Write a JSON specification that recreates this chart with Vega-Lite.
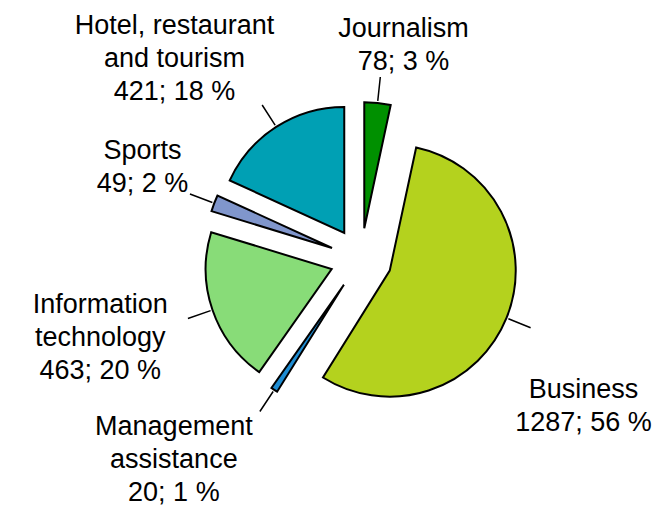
{
  "$schema": "https://vega.github.io/schema/vega-lite/v6.json",
  "width": 654,
  "height": 510,
  "autosize": {"type": "fit", "contains": "padding"},
  "padding": {"left": 66, "top": 8, "right": 0, "bottom": 0},
  "background": "white",
  "config": {"view": {"stroke": null}},
  "data": {
    "values": [
      {"idx": 1, "category": "Journalism", "count": 78, "label": "Journalism\n78; 3 %"},
      {"idx": 2, "category": "Business", "count": 1287, "label": "Business\n1287; 56 %"},
      {"idx": 3, "category": "Management assistance", "count": 20, "label": "Management\nassistance\n20; 1 %"},
      {"idx": 4, "category": "Information technology", "count": 463, "label": "Information\ntechnology\n463; 20 %"},
      {"idx": 5, "category": "Sports", "count": 49, "label": "Sports\n49; 2 %"},
      {"idx": 6, "category": "Hotel, restaurant and tourism", "count": 421, "label": "Hotel, restaurant\nand tourism\n421; 18 %"}
    ]
  },
  "transform": [
    {"stack": "count", "groupby": [], "sort": [{"field": "idx", "order": "ascending"}], "as": ["c0", "c1"]}
  ],
  "encoding": {
    "theta": {"field": "c1", "type": "quantitative"},
    "theta2": {"field": "c0"}
  },
  "layer": [
    {
      "mark": {
        "type": "arc",
        "radius": 126,
        "stroke": "#000000",
        "strokeWidth": 2,
        "xOffset": {"expr": "31 * sin((scale('theta', datum.c0) + scale('theta', datum.c1)) / 2)"},
        "yOffset": {"expr": "-31 * cos((scale('theta', datum.c0) + scale('theta', datum.c1)) / 2)"}
      },
      "encoding": {
        "color": {
          "field": "category",
          "type": "nominal",
          "legend": null,
          "scale": {
            "domain": ["Journalism", "Business", "Management assistance", "Information technology", "Sports", "Hotel, restaurant and tourism"],
            "range": ["#009000", "#B4D21E", "#1E8CD2", "#88DC78", "#8096CC", "#00A0B4"]
          }
        }
      }
    },
    {
      "mark": {
        "type": "arc",
        "radius": 152,
        "radius2": 128,
        "filled": false,
        "color": "#000000",
        "strokeWidth": 1.5,
        "thetaOffset": {"expr": "(scale('theta', datum.c0) - scale('theta', datum.c1)) / 2"},
        "theta2Offset": {"expr": "(scale('theta', datum.c1) - scale('theta', datum.c0)) / 2"},
        "xOffset": {"expr": "31 * sin((scale('theta', datum.c0) + scale('theta', datum.c1)) / 2)"},
        "yOffset": {"expr": "-31 * cos((scale('theta', datum.c0) + scale('theta', datum.c1)) / 2)"}
      },
      "encoding": {
        "detail": {"field": "category", "type": "nominal"}
      }
    },
    {
      "mark": {
        "type": "text",
        "font": "Liberation Sans",
        "fontSize": 27,
        "lineBreak": "\n",
        "lineHeight": 33,
        "align": "center",
        "baseline": "middle",
        "color": "#000000",
        "xOffset": {"expr": "clamp((sin(((scale('theta', datum.c0) + scale('theta', datum.c1)) / 2 + 0.08)) < 0 ? -1 : 1) * sqrt(max(pow((185 + (6.75 * max(length(split(datum.label + '\\n\\n', '\\n')[0]), length(split(datum.label + '\\n\\n', '\\n')[1]), length(split(datum.label + '\\n\\n', '\\n')[2]))) * abs(sin(((scale('theta', datum.c0) + scale('theta', datum.c1)) / 2 + 0.08))) + (16.5 * length(split(datum.label, '\\n'))) * abs(cos(((scale('theta', datum.c0) + scale('theta', datum.c1)) / 2 + 0.08)))), 2) - pow(clamp(-(185 + (6.75 * max(length(split(datum.label + '\\n\\n', '\\n')[0]), length(split(datum.label + '\\n\\n', '\\n')[1]), length(split(datum.label + '\\n\\n', '\\n')[2]))) * abs(sin(((scale('theta', datum.c0) + scale('theta', datum.c1)) / 2 + 0.08))) + (16.5 * length(split(datum.label, '\\n'))) * abs(cos(((scale('theta', datum.c0) + scale('theta', datum.c1)) / 2 + 0.08)))) * cos(((scale('theta', datum.c0) + scale('theta', datum.c1)) / 2 + 0.08)), -262 + (16.5 * length(split(datum.label, '\\n'))), 238 - (16.5 * length(split(datum.label, '\\n')))), 2), pow(clamp((185 + (6.75 * max(length(split(datum.label + '\\n\\n', '\\n')[0]), length(split(datum.label + '\\n\\n', '\\n')[1]), length(split(datum.label + '\\n\\n', '\\n')[2]))) * abs(sin(((scale('theta', datum.c0) + scale('theta', datum.c1)) / 2 + 0.08))) + (16.5 * length(split(datum.label, '\\n'))) * abs(cos(((scale('theta', datum.c0) + scale('theta', datum.c1)) / 2 + 0.08)))) * sin(((scale('theta', datum.c0) + scale('theta', datum.c1)) / 2 + 0.08)), -356 + (6.75 * max(length(split(datum.label + '\\n\\n', '\\n')[0]), length(split(datum.label + '\\n\\n', '\\n')[1]), length(split(datum.label + '\\n\\n', '\\n')[2]))), 290 - (6.75 * max(length(split(datum.label + '\\n\\n', '\\n')[0]), length(split(datum.label + '\\n\\n', '\\n')[1]), length(split(datum.label + '\\n\\n', '\\n')[2])))), 2))), -356 + (6.75 * max(length(split(datum.label + '\\n\\n', '\\n')[0]), length(split(datum.label + '\\n\\n', '\\n')[1]), length(split(datum.label + '\\n\\n', '\\n')[2]))), 290 - (6.75 * max(length(split(datum.label + '\\n\\n', '\\n')[0]), length(split(datum.label + '\\n\\n', '\\n')[1]), length(split(datum.label + '\\n\\n', '\\n')[2]))))"},
        "yOffset": {"expr": "clamp((cos(((scale('theta', datum.c0) + scale('theta', datum.c1)) / 2 + 0.08)) > 0 ? -1 : 1) * sqrt(max(pow((185 + (6.75 * max(length(split(datum.label + '\\n\\n', '\\n')[0]), length(split(datum.label + '\\n\\n', '\\n')[1]), length(split(datum.label + '\\n\\n', '\\n')[2]))) * abs(sin(((scale('theta', datum.c0) + scale('theta', datum.c1)) / 2 + 0.08))) + (16.5 * length(split(datum.label, '\\n'))) * abs(cos(((scale('theta', datum.c0) + scale('theta', datum.c1)) / 2 + 0.08)))), 2) - pow(clamp((185 + (6.75 * max(length(split(datum.label + '\\n\\n', '\\n')[0]), length(split(datum.label + '\\n\\n', '\\n')[1]), length(split(datum.label + '\\n\\n', '\\n')[2]))) * abs(sin(((scale('theta', datum.c0) + scale('theta', datum.c1)) / 2 + 0.08))) + (16.5 * length(split(datum.label, '\\n'))) * abs(cos(((scale('theta', datum.c0) + scale('theta', datum.c1)) / 2 + 0.08)))) * sin(((scale('theta', datum.c0) + scale('theta', datum.c1)) / 2 + 0.08)), -356 + (6.75 * max(length(split(datum.label + '\\n\\n', '\\n')[0]), length(split(datum.label + '\\n\\n', '\\n')[1]), length(split(datum.label + '\\n\\n', '\\n')[2]))), 290 - (6.75 * max(length(split(datum.label + '\\n\\n', '\\n')[0]), length(split(datum.label + '\\n\\n', '\\n')[1]), length(split(datum.label + '\\n\\n', '\\n')[2])))), 2), pow(clamp(-(185 + (6.75 * max(length(split(datum.label + '\\n\\n', '\\n')[0]), length(split(datum.label + '\\n\\n', '\\n')[1]), length(split(datum.label + '\\n\\n', '\\n')[2]))) * abs(sin(((scale('theta', datum.c0) + scale('theta', datum.c1)) / 2 + 0.08))) + (16.5 * length(split(datum.label, '\\n'))) * abs(cos(((scale('theta', datum.c0) + scale('theta', datum.c1)) / 2 + 0.08)))) * cos(((scale('theta', datum.c0) + scale('theta', datum.c1)) / 2 + 0.08)), -262 + (16.5 * length(split(datum.label, '\\n'))), 238 - (16.5 * length(split(datum.label, '\\n')))), 2))), -262 + (16.5 * length(split(datum.label, '\\n'))), 238 - (16.5 * length(split(datum.label, '\\n')))) - ((16.5 * length(split(datum.label, '\\n'))) - 29)"}
      },
      "encoding": {
        "text": {"field": "label", "type": "nominal"},
        "detail": {"field": "category", "type": "nominal"}
      }
    }
  ]
}
